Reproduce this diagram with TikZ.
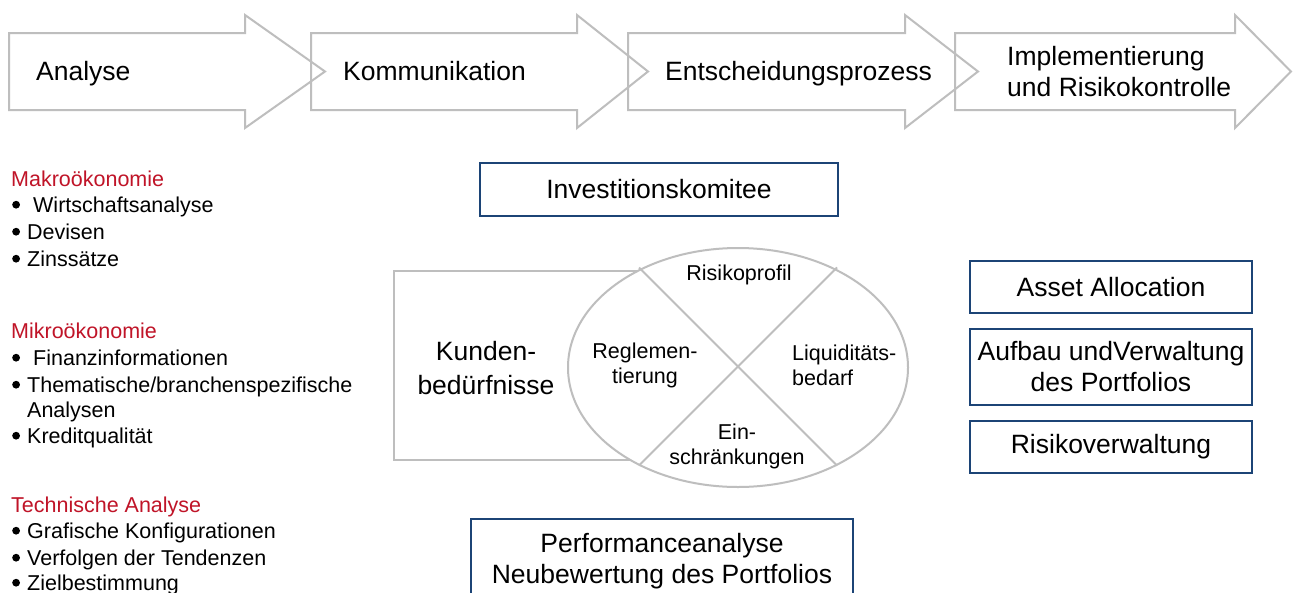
\documentclass[tikz,border=0pt]{standalone}
\usepackage{fontspec}
\setmainfont{Liberation Sans}
\definecolor{arrgray}{RGB}{190,190,190}
\definecolor{boxblue}{RGB}{28,68,118}
\definecolor{headred}{RGB}{192,20,40}
\tikzset{
  flow/.style={draw=arrgray, line width=2pt, line join=miter},
  big/.style={font=\fontsize{26.5}{31}\selectfont, inner sep=0pt},
  small/.style={font=\fontsize{21.5}{25}\selectfont, inner sep=0pt},
  bluebox/.style={draw=boxblue, line width=2pt, fill=white, font=\fontsize{26.5}{31}\selectfont, align=center},
  head/.style={small, text=headred, anchor=base west},
  item/.style={small, anchor=base west},
}
\newcommand{\bul}[1]{\makebox[#1][l]{\hspace{1pt}\tikz[baseline=0pt]\fill[black] (0pt,7.3pt) circle (3.9pt);}}
\begin{document}
\begin{tikzpicture}[x=1pt,y=-1pt]
\clip (0,0) rectangle (1293,592);
\fill[white] (0,0) rectangle (1293,592);
% process arrows
\draw[flow] (9,33) -- (245,33) -- (245,15) -- (325,71.5) -- (245,128) -- (245,110) -- (9,110) -- cycle;
\draw[flow] (311,33) -- (577,33) -- (577,15) -- (648,71.5) -- (577,128) -- (577,110) -- (311,110) -- cycle;
\draw[flow] (628,33) -- (905,33) -- (905,15) -- (978,71.5) -- (905,128) -- (905,110) -- (628,110) -- cycle;
\draw[flow] (955,33) -- (1235,33) -- (1235,15) -- (1291,71.5) -- (1235,128) -- (1235,110) -- (955,110) -- cycle;
\node[big, anchor=base west] (a1) at (36,80) {Analyse};
\node[big, anchor=base west] (a2) at (343,80) {Kommunikation};
\node[big, anchor=base west] (a3) at (665,80) {Entscheidungsprozess};
\node[big, anchor=west, align=left] (a4) at (1007,72) {Implementierung\\und Risikokontrolle};
% left column
\node[head] (h1) at (11,186) {Makroökonomie};
\node[item] (i11) at (11,212) {\bul{22pt}Wirtschaftsanalyse};
\node[item] (i12) at (11,239) {\bul{16pt}Devisen};
\node[item] (i13) at (11,266) {\bul{16pt}Zinssätze};
\node[head] (h2) at (11,338) {Mikroökonomie};
\node[item] (i21) at (11,365) {\bul{22pt}Finanzinformationen};
\node[item] (i22) at (11,392) {\bul{16pt}Thematische/branchenspezifische};
\node[item] (i23) at (27,417) {Analysen};
\node[item] (i24) at (11,443) {\bul{16pt}Kreditqualität};
\node[head] (h3) at (11,512) {Technische Analyse};
\node[item] (i31) at (11,538) {\bul{16pt}Grafische Konfigurationen};
\node[item] (i32) at (11,565) {\bul{16pt}Verfolgen der Tendenzen};
\node[item] (i33) at (11,590) {\bul{16pt}Zielbestimmung};
% centre
\node[bluebox, minimum width=358, minimum height=53] (ik) at (659,189.5) {Investitionskomitee};
\draw[flow] (394,270.5) rectangle (639,459.5);
\node[big, align=center] (kb) at (486,368) {Kunden-\\[3pt]bedürfnisse};
\filldraw[flow, fill=white] (738,367.5) ellipse [x radius=170, y radius=119.5];
\coordinate (c) at (738,366);
\draw[flow] (639,267.5) -- (837,465.5);
\draw[flow] (837,267.5) -- (639,465.5);
\node[small] (rp) at (739,275) {Risikoprofil};
\node[small, align=center] (rg) at (645,365) {Reglemen-\\tierung};
\node[small, align=left, anchor=west] (lq) at (792,365) {Liquiditäts-\\bedarf};
\node[small, align=center] (es) at (737,446) {Ein-\\schränkungen};
% right
\node[bluebox, minimum width=282, minimum height=52] (aa) at (1111,287) {Asset Allocation};
\node[bluebox, minimum width=282, minimum height=76, inner sep=0pt] (ap) at (1111,367) {Aufbau undVerwaltung\\des Portfolios};
\node[bluebox, minimum width=282, minimum height=52] (rv) at (1111,447) {Risikoverwaltung};
% bottom
\node[bluebox, minimum width=382, inner ysep=14pt, anchor=north] (pa) at (662,518) {Performanceanalyse\\Neubewertung des Portfolios};
\end{tikzpicture}
\end{document}
